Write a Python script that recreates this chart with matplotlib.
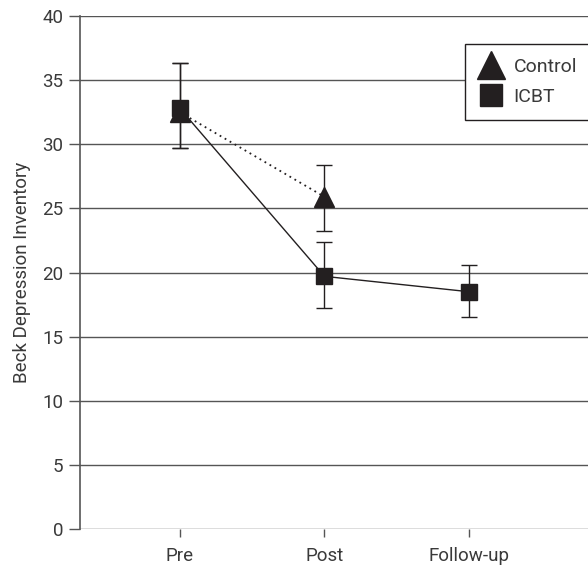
import matplotlib
matplotlib.use("Agg")
import matplotlib.pyplot as plt
import numpy as np

plt.rcParams['font.family'] = ['Roboto', 'DejaVu Sans']

categories = ["Pre", "Post", "Follow-up"]
control_mean = [32.5, 25.9]
control_err_lo = [2.8, 2.7]
control_err_hi = [3.8, 2.5]
icbt_mean = [32.8, 19.7, 18.5]
icbt_err_lo = [3.1, 2.5, 2.0]
icbt_err_hi = [3.5, 2.7, 2.1]
yticks = [0, 5, 10, 15, 20, 25, 30, 35, 40]

fig = plt.figure(figsize=(5.88, 5.65), dpi=100)
ax = fig.add_axes([80/588, 36/565, 1 - 80/588 + 0.002, (529-16)/565])

x = np.arange(1, len(categories) + 1)
ink = '#231f20'
grid_c = '#555555'
txt_c = '#3a3a3a'

for yv in yticks:
    ax.axhline(yv, color=grid_c, lw=1.0, zorder=1)

ax.errorbar(x[:2], control_mean, yerr=[control_err_lo, control_err_hi], fmt='none',
            ecolor=ink, elinewidth=1.0, capsize=6, capthick=1.0, zorder=2)
ax.plot(x[:2], control_mean, linestyle=(0, (1, 2.2)), color=ink, lw=1.3, zorder=3)
ax.plot(x[:2], control_mean, linestyle='none', marker='^', ms=15, color=ink,
        label='Control', zorder=4)

ax.errorbar(x, icbt_mean, yerr=[icbt_err_lo, icbt_err_hi], fmt='none',
            ecolor=ink, elinewidth=1.0, capsize=6, capthick=1.0, zorder=2)
ax.plot(x, icbt_mean, linestyle='-', color=ink, lw=1.0, zorder=3)
ax.plot(x, icbt_mean, linestyle='none', marker='s', ms=12, color=ink,
        label='ICBT', zorder=5)

ax.set_xlim(0.31, 3.83)
ax.set_ylim(0, 40)
ax.set_yticks(yticks)
ax.set_xticks(x)
ax.set_xticklabels(categories)
for s in ['top', 'right', 'bottom']:
    ax.spines[s].set_visible(False)
ax.spines['left'].set_color(grid_c)
ax.spines['left'].set_linewidth(1.2)
ax.tick_params(axis='y', length=8, width=1.0, color=grid_c, labelsize=13.5, labelcolor=txt_c, pad=4)
ax.tick_params(axis='x', length=6, width=1.0, color=grid_c, labelsize=13.5, labelcolor=txt_c, pad=7)
ax.set_ylabel('Beck Depression Inventory', fontsize=13.5, color=txt_c, labelpad=8)

leg = fig.legend(loc='upper left', bbox_to_anchor=(465/588, 1 - 44/565), frameon=True,
                 fancybox=False, edgecolor=ink, fontsize=14, handlelength=1.3,
                 handletextpad=0.5, borderpad=0.7, labelspacing=0.65, framealpha=1,
                 borderaxespad=0, markerscale=1.3)
leg.get_frame().set_linewidth(1.0)
for t in leg.get_texts():
    t.set_color(txt_c)

fig.savefig('out.png', dpi=100)
